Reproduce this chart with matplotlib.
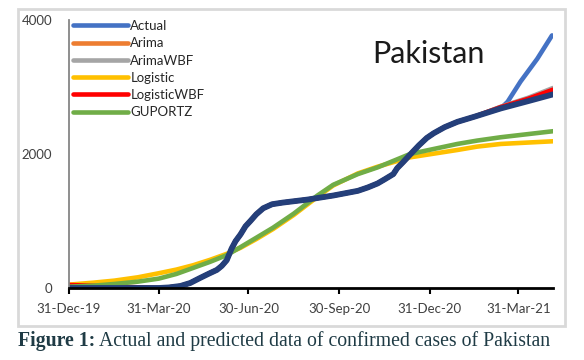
import matplotlib
matplotlib.use("Agg")
import matplotlib.pyplot as plt
import matplotlib.dates as mdates
import matplotlib.patches as patches
import pandas as pd

# fitted curve (dark blue, not in legend)
fit_dates = ['2019-12-31', '2020-03-31', '2020-04-10', '2020-04-22', '2020-05-02', '2020-05-12',
             '2020-05-21', '2020-05-29', '2020-06-03', '2020-06-08', '2020-06-13', '2020-06-17',
             '2020-06-22', '2020-06-27', '2020-07-02', '2020-07-08', '2020-07-15', '2020-07-24',
             '2020-08-04', '2020-08-29', '2020-09-24', '2020-10-19', '2020-10-29', '2020-11-08',
             '2020-11-15', '2020-11-24', '2020-11-28', '2020-12-04', '2020-12-11', '2020-12-20',
             '2020-12-28', '2021-01-04', '2021-01-15', '2021-01-28', '2021-02-15', '2021-03-13',
             '2021-04-10', '2021-05-05']
fit_vals = [0, 0, 8, 30, 75, 150, 215, 270, 330, 415, 590, 700,
            800, 920, 1000, 1100, 1190, 1250, 1275, 1320, 1380, 1450, 1500, 1560,
            1620, 1700, 1790, 1880, 1990, 2130, 2240, 2310, 2400, 2480, 2560, 2680,
            2790, 2890]

actual_dates = fit_dates[:-2] + ['2021-03-20', '2021-04-02', '2021-04-19', '2021-05-04']
actual_vals = fit_vals[:-2] + [2780, 3080, 3420, 3770]

wbf_dates = fit_dates[:-3] + ['2021-03-13', '2021-04-10', '2021-05-05']
arima_vals = [30] + fit_vals[1:-3] + [2700, 2830, 2970]
arimawbf_vals = [30] + fit_vals[1:-3] + [2705, 2840, 2985]
logwbf_vals = [45] + fit_vals[1:-3] + [2700, 2825, 2960]

curve_dates = ['2019-12-31', '2020-01-25', '2020-02-15', '2020-03-10', '2020-03-31', '2020-04-18',
               '2020-05-05', '2020-05-22', '2020-06-08', '2020-06-22', '2020-07-08', '2020-07-25',
               '2020-08-15', '2020-09-08', '2020-09-24', '2020-10-19', '2020-11-08', '2020-12-11',
               '2021-01-28', '2021-02-17', '2021-03-13', '2021-05-05']
logistic_vals = [50, 80, 110, 160, 220, 275, 340, 420, 510, 600, 730, 880,
                 1090, 1360, 1530, 1710, 1810, 1950, 2060, 2110, 2150, 2190]
guportz_vals = [20, 35, 60, 95, 140, 210, 300, 390, 490, 610, 750, 900,
                1110, 1380, 1540, 1700, 1800, 2000, 2150, 2200, 2250, 2340]

tick_dates = ['2019-12-31', '2020-03-31', '2020-06-30', '2020-09-30', '2020-12-31', '2021-03-31']

W, H = 584, 360
fig = plt.figure(figsize=(W / 100, H / 100), dpi=100)

# grey frame around chart
fig.patches.append(patches.Rectangle((18 / W, 1 - 326 / H), (565 - 18) / W, (326 - 9) / H,
                                     transform=fig.transFigure, fill=False,
                                     edgecolor='#d9d9d9', lw=2))

ax = fig.add_axes([69 / W, 1 - 288 / H, (553 - 69) / W, (288 - 20) / H])

d = pd.to_datetime
kw = dict(lw=3.3, solid_capstyle='round', solid_joinstyle='round')
ax.plot(d(actual_dates), actual_vals, color='#4472C4', label='Actual', **kw)
ax.plot(d(wbf_dates), arima_vals, color='#ED7D31', label='Arima', **kw)
ax.plot(d(wbf_dates), arimawbf_vals, color='#A5A5A5', label='ArimaWBF', **kw)
ax.plot(d(curve_dates), logistic_vals, color='#FFC000', label='Logistic', **kw)
ax.plot(d(wbf_dates), logwbf_vals, color='#FF0000', label='LogisticWBF', **kw)
ax.plot(d(curve_dates), guportz_vals, color='#70AD47', label='GUPORTZ', **kw)
ax.plot(d(fit_dates), fit_vals, color='#243F7A', lw=4.2, solid_capstyle='round',
        solid_joinstyle='round')

ax.set_xlim(d('2019-12-31'), d('2021-05-05'))
ax.set_ylim(0, 4000)
ax.set_yticks([0, 2000, 4000])
ax.set_xticks(d(tick_dates))
ax.xaxis.set_major_formatter(mdates.DateFormatter('%d-%b-%y'))

for s in ['top', 'right']:
    ax.spines[s].set_visible(False)
ax.spines['bottom'].set_color('black')
ax.spines['bottom'].set_linewidth(2)
ax.spines['bottom'].set_zorder(5)
ax.spines['left'].set_color('#868686')
ax.spines['left'].set_linewidth(1.3)
ax.tick_params(axis='x', direction='out', length=4, width=1.5, color='black',
               labelsize=9.5, labelcolor='#404040', pad=7)
ax.tick_params(axis='y', length=0, labelsize=9.5, labelcolor='#404040', pad=12)
for t in ax.get_xticklabels() + ax.get_yticklabels():
    t.set_family('Lato')

leg = ax.legend(loc='upper left', bbox_to_anchor=(0.008, 1.0), frameon=False,
                borderpad=0, borderaxespad=0, handlelength=4.2, handletextpad=0.15,
                labelspacing=0.4, prop={'family': 'Lato', 'size': 9.5})
for t in leg.get_texts():
    t.set_color('#262626')

fig.text(372 / W, 1 - 63 / H, 'Pakistan', family='Lato', fontsize=22, color='#1a1a1a',
         va='baseline', ha='left')

# caption
cap_y = 1 - 346 / H
t1 = fig.text(18 / W, cap_y, 'Figure 1:', family='Liberation Serif', weight='bold',
              fontsize=14.2, color='#1f3b45', va='baseline')
fig.canvas.draw()
bb = t1.get_window_extent(fig.canvas.get_renderer())
fig.text(bb.x1 / W + 4 / W, cap_y, 'Actual and predicted data of confirmed cases of Pakistan',
         family='Liberation Serif', fontsize=14.2, color='#1f3b45', va='baseline')

fig.savefig('out.png', dpi=100)
